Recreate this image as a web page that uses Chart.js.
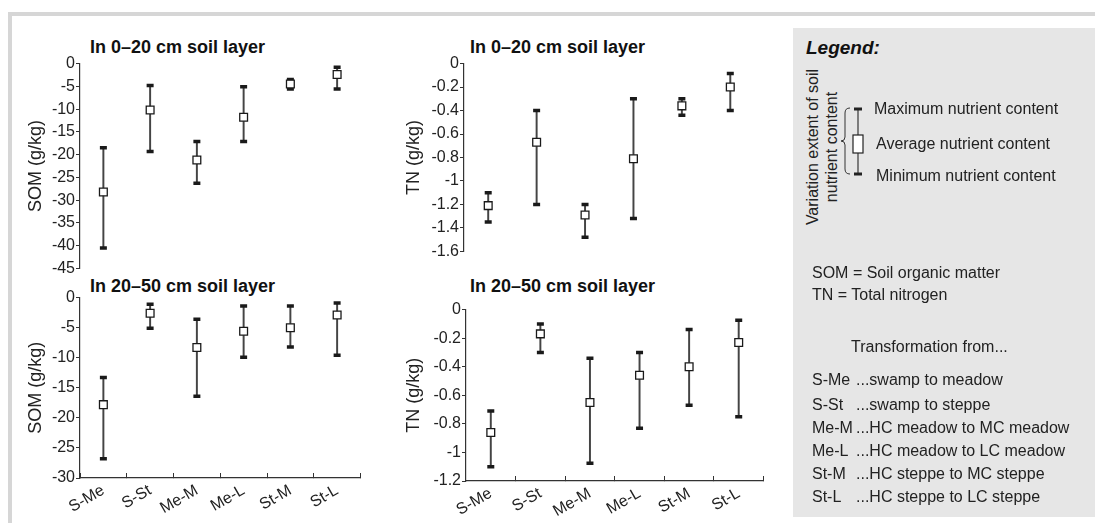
<!DOCTYPE html>
<html>
<head>
<meta charset="utf-8">
<script src="https://cdn.jsdelivr.net/npm/chart.js@4/dist/chart.umd.min.js"></script>
<style>
  body { margin: 0; width: 1095px; height: 523px; position: relative; overflow: hidden; background: #fff;
         font-family: "Liberation Sans", Arial, sans-serif; color: #222; }
  canvas, .abs { position: absolute; }
  .title { font-weight: bold; font-size: 18px; line-height: 20px; color: #111; white-space: nowrap; }
  .lg { font-size: 16px; line-height: 20px; white-space: nowrap; color: #222; }
</style>
</head>
<body>
<div class="abs" style="left:8px;top:12px;width:1087px;height:4px;background:#d6d6d6"></div>
<div class="abs" style="left:8px;top:12px;width:4px;height:511px;background:#d6d6d6"></div>
<div class="abs" style="left:793px;top:28px;width:302px;height:489px;background:#e6e6e6"></div>

<div class="abs title" style="left:90px;top:37px">In 0–20 cm soil layer</div>
<div class="abs title" style="left:470px;top:37px">In 0–20 cm soil layer</div>
<div class="abs title" style="left:90px;top:276px">In 20–50 cm soil layer</div>
<div class="abs title" style="left:470px;top:276px">In 20–50 cm soil layer</div>

<canvas id="somTop" width="358" height="226" style="left:10px;top:53px"></canvas>
<canvas id="tnTop" width="368" height="209" style="left:394px;top:53px"></canvas>
<canvas id="somSub" width="358" height="236" style="left:10px;top:287px"></canvas>
<canvas id="tnSub" width="375" height="224" style="left:396px;top:299px"></canvas>

<!-- legend -->
<div class="abs" style="left:806px;top:37px;font-size:19px;line-height:22px;font-weight:bold;font-style:italic;color:#111">Legend:</div>
<div class="abs lg" style="left:822px;top:147px;transform:translate(-50%,-50%) rotate(-90deg);text-align:center;line-height:19px">Variation extent of soil<br>nutrient content</div>
<svg class="abs" style="left:0;top:0" width="1095" height="523">
  <path d="M850,108 Q845,108 845,113 L845,137 Q845,141 841,141 Q845,141 845,145 L845,169 Q845,174 850,174" fill="none" stroke="#333" stroke-width="1"/>
  <line x1="858" y1="109" x2="858" y2="174" stroke="#444" stroke-width="1.3"/>
  <line x1="854" y1="109" x2="862" y2="109" stroke="#222" stroke-width="3"/>
  <line x1="854" y1="174" x2="862" y2="174" stroke="#222" stroke-width="3"/>
  <rect x="853" y="135" width="10" height="18" fill="#fff" stroke="#222" stroke-width="1.2"/>
</svg>
<div class="abs lg" style="left:874px;top:99px">Maximum nutrient content</div>
<div class="abs lg" style="left:876px;top:134px">Average nutrient content</div>
<div class="abs lg" style="left:876px;top:166px">Minimum nutrient content</div>
<div class="abs lg" style="left:812px;top:263px">SOM = Soil organic matter</div>
<div class="abs lg" style="left:812px;top:285px">TN = Total nitrogen</div>
<div class="abs lg" style="left:851px;top:337px">Transformation from...</div>
<div id="abbr"></div>

<script>
// transformation types on the x axis
const categories = ['S-Me', 'S-St', 'Me-M', 'Me-L', 'St-M', 'St-L'];
const descriptions = ['...swamp to meadow', '...swamp to steppe', '...HC meadow to MC meadow',
                      '...HC meadow to LC meadow', '...HC steppe to MC steppe', '...HC steppe to LC steppe'];

// SOM change, 0-20 cm (g/kg)
const somTopMax = [-18.5, -4.8, -17.1, -5.1, -3.5, -0.8];
const somTopAvg = [-28.2, -10.2, -21.2, -11.8, -4.5, -2.4];
const somTopMin = [-40.5, -19.3, -26.3, -17.1, -5.6, -5.6];

// TN change, 0-20 cm (g/kg)
const tnTopMax = [-1.1, -0.4, -1.2, -0.3, -0.3, -0.085];
const tnTopAvg = [-1.21, -0.67, -1.29, -0.81, -0.36, -0.2];
const tnTopMin = [-1.35, -1.2, -1.48, -1.32, -0.44, -0.4];

// SOM change, 20-50 cm (g/kg)
const somSubMax = [-13.3, -1.1, -3.6, -1.4, -1.4, -0.9];
const somSubAvg = [-17.8, -2.6, -8.3, -5.6, -5.0, -2.9];
const somSubMin = [-26.8, -5.1, -16.4, -9.9, -8.2, -9.6];

// TN change, 20-50 cm (g/kg)
const tnSubMax = [-0.71, -0.1, -0.34, -0.3, -0.14, -0.075];
const tnSubAvg = [-0.86, -0.17, -0.65, -0.46, -0.4, -0.23];
const tnSubMin = [-1.1, -0.3, -1.075, -0.83, -0.67, -0.75];

// abbreviation list in the legend box
const abbrTops = [370, 395, 418, 441, 464, 487];
let html = '';
categories.forEach((c, i) => {
    html += `<div class="abs lg" style="left:812px;top:${abbrTops[i]}px">${c}</div>`;
    html += `<div class="abs lg" style="left:856px;top:${abbrTops[i]}px">${descriptions[i]}</div>`;
});
document.getElementById('abbr').innerHTML = html;

Chart.defaults.font.family = '"Liberation Sans", Arial, sans-serif';
Chart.defaults.font.size = 16;
Chart.defaults.color = '#222';

function makePanel(id, maxV, avgV, minV, yMin, step, yTitle, titlePad, xHeight) {
    const ctx = document.getElementById(id).getContext('2d');
    const showX = xHeight > 0;
    return new Chart(ctx, {
        type: 'bar',
        data: {
            labels: categories,
            datasets: [
                { // range line from min to max
                    type: 'bar',
                    data: categories.map((c, i) => [minV[i], maxV[i]]),
                    backgroundColor: '#444',
                    barThickness: 1.3,
                    order: 3
                },
                {
                    type: 'line', data: maxV, showLine: false,
                    pointStyle: 'line', pointRadius: 3.5, pointBorderWidth: 3.5,
                    borderColor: '#1a1a1a', order: 2
                },
                {
                    type: 'line', data: minV, showLine: false,
                    pointStyle: 'line', pointRadius: 3.5, pointBorderWidth: 3.5,
                    borderColor: '#1a1a1a', order: 2
                },
                { // average marker
                    type: 'line', data: avgV, showLine: false,
                    pointStyle: 'rect', pointRadius: 5.5, pointBorderWidth: 1.3,
                    pointBackgroundColor: '#fff', borderColor: '#1a1a1a', order: 1
                }
            ]
        },
        options: {
            responsive: false,
            animation: false,
            layout: { padding: { top: 10, bottom: showX ? 0 : 10, left: 0, right: 0 } },
            plugins: { legend: { display: false }, tooltip: { enabled: false } },
            scales: {
                x: {
                    display: showX,
                    offset: true,
                    grid: { offset: true, drawOnChartArea: false, drawTicks: true, tickLength: -5, color: '#333' },
                    border: { display: true, color: '#333', width: 1.2 },
                    ticks: { maxRotation: 30, minRotation: 30, padding: 8, color: '#222' },
                    afterFit: s => { s.height = xHeight; }
                },
                y: {
                    min: yMin,
                    max: 0,
                    ticks: {
                        stepSize: step, padding: 1, color: '#222',
                        callback: v => String(Number(v.toFixed(2)))
                    },
                    grid: { drawOnChartArea: false, drawTicks: true, tickLength: 4, color: '#333' },
                    border: { display: true, color: '#333', width: 1.2 },
                    title: { display: true, text: yTitle, font: { size: 18 }, color: '#222', padding: { top: titlePad, bottom: 0 } },
                    afterFit: s => { s.width = 70; }
                }
            }
        }
    });
}

makePanel('somTop', somTopMax, somTopAvg, somTopMin, -45, 5, 'SOM (g/kg)', 15, 0);
makePanel('tnTop', tnTopMax, tnTopAvg, tnTopMin, -1.6, 0.2, 'TN (g/kg)', 9, 0);
makePanel('somSub', somSubMax, somSubAvg, somSubMin, -30, 5, 'SOM (g/kg)', 15, 45);
makePanel('tnSub', tnSubMax, tnSubAvg, tnSubMin, -1.2, 0.2, 'TN (g/kg)', 7, 42);
</script>
</body>
</html>
